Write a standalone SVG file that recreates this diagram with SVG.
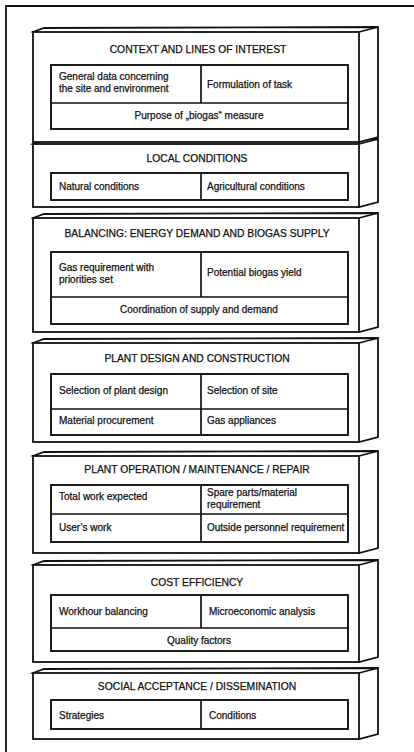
<svg xmlns="http://www.w3.org/2000/svg" width="414" height="752" viewBox="0 0 414 752">
<style>
.o{fill:#fff;stroke:#111;stroke-width:1.8;stroke-linejoin:miter}
.e{fill:none;stroke:#111;stroke-width:1.8}
.t{fill:#fff;stroke:#111;stroke-width:1.9}
.l{fill:none;stroke:#111;stroke-width:1.7}
.h{font-family:"Liberation Sans",Arial,sans-serif;font-size:10.3px;fill:#111;stroke:#111;stroke-width:0.25;text-anchor:middle}
.c{font-family:"Liberation Sans",Arial,sans-serif;font-size:10px;fill:#111;stroke:#111;stroke-width:0.25}
.m{text-anchor:middle}
</style>
<rect width="414" height="752" fill="#fff"/>
<path class="e" d="M6,752 V6 H414" stroke-width="2"/>

<g id="social">
<path class="o" d="M33,673 L44,669 L378,668 L378,734 L359,739 Z"/>
<rect class="o" x="33" y="673" width="326" height="66"/>
<path class="e" d="M359,673 L378,668"/>
<text class="h" x="197" y="690">SOCIAL ACCEPTANCE / DISSEMINATION</text>
<rect class="t" x="51" y="700" width="297" height="29"/>
<path class="l" d="M201,700 V729"/>
<text class="c" x="59" y="719">Strategies</text>
<text class="c" x="209" y="719">Conditions</text>
</g>

<g id="cost">
<path class="o" d="M33,565 L44,561 L378,560 L378,657 L359,662 Z"/>
<rect class="o" x="33" y="565" width="326" height="97"/>
<path class="e" d="M359,565 L378,560"/>
<text class="h" x="197" y="586">COST EFFICIENCY</text>
<rect class="t" x="51" y="595" width="297" height="56"/>
<path class="l" d="M51,628 H348 M201,595 V628"/>
<text class="c" x="59" y="615">Workhour balancing</text>
<text class="c" x="209" y="615">Microeconomic analysis</text>
<text class="c m" x="199" y="644">Quality factors</text>
</g>

<g id="operation">
<path class="o" d="M33,456 L44,452 L378,451 L378,548 L359,553 Z"/>
<rect class="o" x="33" y="456" width="326" height="97"/>
<path class="e" d="M359,456 L378,451"/>
<text class="h" x="197" y="473">PLANT OPERATION / MAINTENANCE / REPAIR</text>
<rect class="t" x="51" y="485" width="297" height="57"/>
<path class="l" d="M51,514 H348 M201,485 V542"/>
<text class="c" x="59" y="500">Total work expected</text>
<text class="c" x="207" y="496">Spare parts/material</text>
<text class="c" x="207" y="508">requirement</text>
<text class="c" x="59" y="531">User’s work</text>
<text class="c" x="207" y="531">Outside personnel requirement</text>
</g>

<g id="design">
<path class="o" d="M33,343 L44,339 L378,338 L378,437 L359,442 Z"/>
<rect class="o" x="33" y="343" width="326" height="99"/>
<path class="e" d="M359,343 L378,338"/>
<text class="h" x="197" y="362">PLANT DESIGN AND CONSTRUCTION</text>
<rect class="t" x="51" y="374" width="297" height="61"/>
<path class="l" d="M51,409 H348 M201,374 V435"/>
<text class="c" x="59" y="394">Selection of plant design</text>
<text class="c" x="207" y="394">Selection of site</text>
<text class="c" x="59" y="424">Material procurement</text>
<text class="c" x="207" y="424">Gas appliances</text>
</g>

<g id="balancing">
<path class="o" d="M33,218 L44,214 L378,213 L378,327 L359,332 Z"/>
<rect class="o" x="33" y="218" width="326" height="114"/>
<path class="e" d="M359,218 L378,213"/>
<text class="h" x="197" y="237">BALANCING: ENERGY DEMAND AND BIOGAS SUPPLY</text>
<rect class="t" x="51" y="252" width="297" height="72"/>
<path class="l" d="M51,297 H348 M201,252 V297"/>
<text class="c" x="59" y="271">Gas requirement with</text>
<text class="c" x="59" y="283">priorities set</text>
<text class="c" x="207" y="276">Potential biogas yield</text>
<text class="c m" x="199" y="313">Coordination of supply and demand</text>
</g>

<g id="local">
<path class="o" d="M33,144 L44,140 L378,139 L378,202 L359,207 Z"/>
<rect class="o" x="33" y="144" width="326" height="63"/>
<path class="e" d="M359,144 L378,139"/>
<text class="h" x="197" y="162">LOCAL CONDITIONS</text>
<rect class="t" x="51" y="173" width="297" height="27"/>
<path class="l" d="M201,173 V200"/>
<text class="c" x="59" y="190">Natural conditions</text>
<text class="c" x="207" y="190">Agricultural conditions</text>
</g>

<g id="context">
<path class="o" d="M33,32 L44,28 L378,27 L378,137 L359,142 Z"/>
<rect class="o" x="33" y="32" width="326" height="110"/>
<path class="e" d="M359,32 L378,27"/>
<text class="h" x="198" y="53">CONTEXT AND LINES OF INTEREST</text>
<rect class="t" x="51" y="65" width="297" height="64"/>
<path class="l" d="M51,103 H348 M201,65 V103"/>
<text class="c" x="59" y="80">General data concerning</text>
<text class="c" x="59" y="92">the site and environment</text>
<text class="c" x="207" y="88">Formulation of task</text>
<text class="c m" x="199" y="119">Purpose of „biogas“ measure</text>
</g>
</svg>
